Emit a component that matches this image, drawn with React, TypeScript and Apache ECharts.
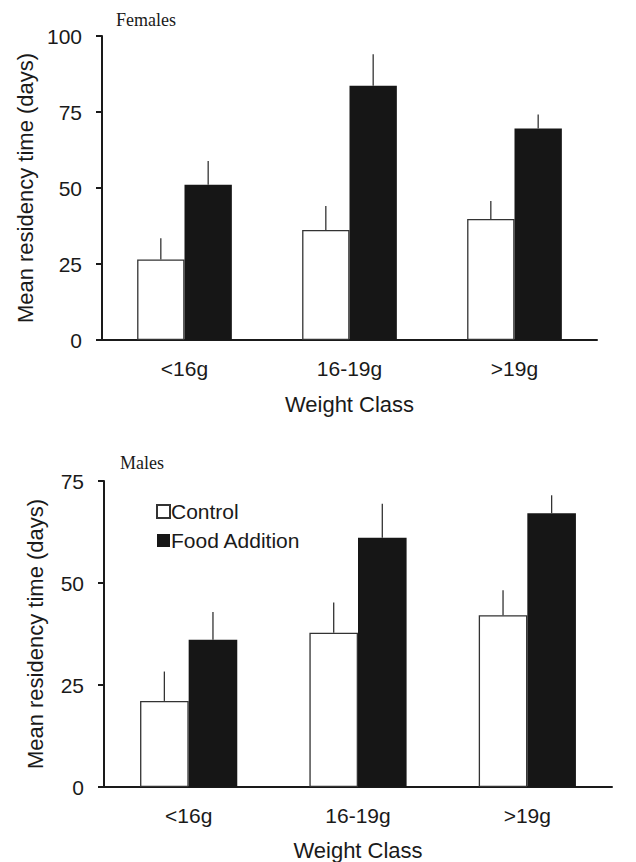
import React, { useEffect, useRef } from "react";
import * as echarts from "echarts";

const categories = ["<16g", "16-19g", ">19g"];
const femaleControl = [26.5, 36.2, 39.8];
const femaleControlSE = [7.0, 7.9, 5.9];
const femaleFood = [51.1, 83.6, 69.6];
const femaleFoodSE = [7.8, 10.4, 4.6];
const maleControl = [21.1, 37.8, 42.1];
const maleControlSE = [7.2, 7.4, 6.1];
const maleFood = [36.1, 61.1, 67.1];
const maleFoodSE = [6.8, 8.3, 4.4];
const femaleTicks = { min: 0, max: 100, interval: 25 };
const maleTicks = { min: 0, max: 75, interval: 25 };

const BAR_FRAC = 0.287;
const SANS = "Liberation Sans, Arial, Helvetica, sans-serif";
const SERIF = "Liberation Serif, Times New Roman, serif";
const INK = "#1a1a1a";

function errSeries(means: number[], se: number[], axis: number, sign: number) {
  return {
    type: "custom",
    xAxisIndex: axis,
    yAxisIndex: axis,
    z: 5,
    silent: true,
    data: means.map((m, i) => [i, m, m + se[i]]),
    renderItem: (params: any, api: any) => {
      const i = api.value(0);
      const p0 = api.coord([i, api.value(1)]);
      const p1 = api.coord([i, api.value(2)]);
      const w = api.size([1, 0])[0];
      const x = p0[0] + (sign * w * BAR_FRAC) / 2;
      return {
        type: "line",
        shape: { x1: x, y1: p0[1], x2: x, y2: p1[1] },
        style: { stroke: "#333", lineWidth: 1.3 },
      };
    },
  };
}

function xAxisCfg(gridIndex: number, nameGap: number) {
  return {
    type: "category",
    gridIndex,
    data: categories,
    name: "Weight Class",
    nameLocation: "middle",
    nameGap,
    nameTextStyle: { fontFamily: SANS, fontSize: 22, color: INK },
    axisLine: { lineStyle: { color: INK, width: 2 } },
    axisTick: { length: 6, lineStyle: { color: INK, width: 2 } },
    axisLabel: { fontFamily: SANS, fontSize: 21, color: INK, margin: 18 },
    splitLine: { show: false },
  };
}

function yAxisCfg(gridIndex: number, t: any, nameGap: number) {
  return {
    type: "value",
    gridIndex,
    min: t.min,
    max: t.max,
    interval: t.interval,
    name: "Mean residency time (days)",
    nameLocation: "middle",
    nameGap,
    nameTextStyle: { fontFamily: SANS, fontSize: 22, color: INK },
    axisLine: { show: true, lineStyle: { color: INK, width: 2 } },
    axisTick: { show: true, length: 6, lineStyle: { color: INK, width: 2 } },
    axisLabel: { fontFamily: SANS, fontSize: 21, color: INK, margin: 20 },
    splitLine: { show: false },
  };
}

export default function App() {
  const ref = useRef<HTMLDivElement>(null);
  useEffect(() => {
    if (!ref.current) return;
    const chart = echarts.init(ref.current, undefined, { renderer: "svg" });
    const barW = (BAR_FRAC * 100).toFixed(1) + "%";
    const controlStyle = { color: "#ffffff", borderColor: "#333", borderWidth: 1.3 };
    const foodStyle = { color: "#161616" };
    chart.setOption({
      animation: false,
      backgroundColor: "#ffffff",
      title: [
        { text: "Females", left: 111, top: 6, textStyle: { fontFamily: SERIF, fontSize: 18, fontWeight: "normal", color: INK } },
        { text: "Males", left: 115, top: 449, textStyle: { fontFamily: SERIF, fontSize: 18, fontWeight: "normal", color: INK } },
      ],
      legend: {
        data: ["Control", "Food Addition"],
        orient: "vertical",
        left: 151,
        top: 496,
        icon: "rect",
        itemWidth: 13,
        itemHeight: 13,
        itemGap: 8,
        textStyle: { fontFamily: SANS, fontSize: 21, color: INK, padding: [0, 0, 0, -4] },
        selectedMode: false,
      },
      grid: [
        { left: 102, top: 36, width: 495, height: 304 },
        { left: 104, top: 481, width: 508, height: 306 },
      ],
      xAxis: [xAxisCfg(0, 53), xAxisCfg(1, 52)],
      yAxis: [yAxisCfg(0, femaleTicks, 64), yAxisCfg(1, maleTicks, 58)],
      series: [
        { name: "Control", type: "bar", xAxisIndex: 0, yAxisIndex: 0, data: femaleControl, barWidth: barW, barGap: "0%", itemStyle: controlStyle },
        { name: "Food Addition", type: "bar", xAxisIndex: 0, yAxisIndex: 0, data: femaleFood, barWidth: barW, barGap: "0%", itemStyle: foodStyle },
        { name: "Control", type: "bar", xAxisIndex: 1, yAxisIndex: 1, data: maleControl, barWidth: barW, barGap: "0%", itemStyle: controlStyle },
        { name: "Food Addition", type: "bar", xAxisIndex: 1, yAxisIndex: 1, data: maleFood, barWidth: barW, barGap: "0%", itemStyle: foodStyle },
        errSeries(femaleControl, femaleControlSE, 0, -1),
        errSeries(femaleFood, femaleFoodSE, 0, 1),
        errSeries(maleControl, maleControlSE, 1, -1),
        errSeries(maleFood, maleFoodSE, 1, 1),
      ],
    });
    return () => chart.dispose();
  }, []);
  return (
    <div
      ref={ref}
      style={{ position: "absolute", left: 0, top: 0, width: 636, height: 862, background: "#fff" }}
    />
  );
}
